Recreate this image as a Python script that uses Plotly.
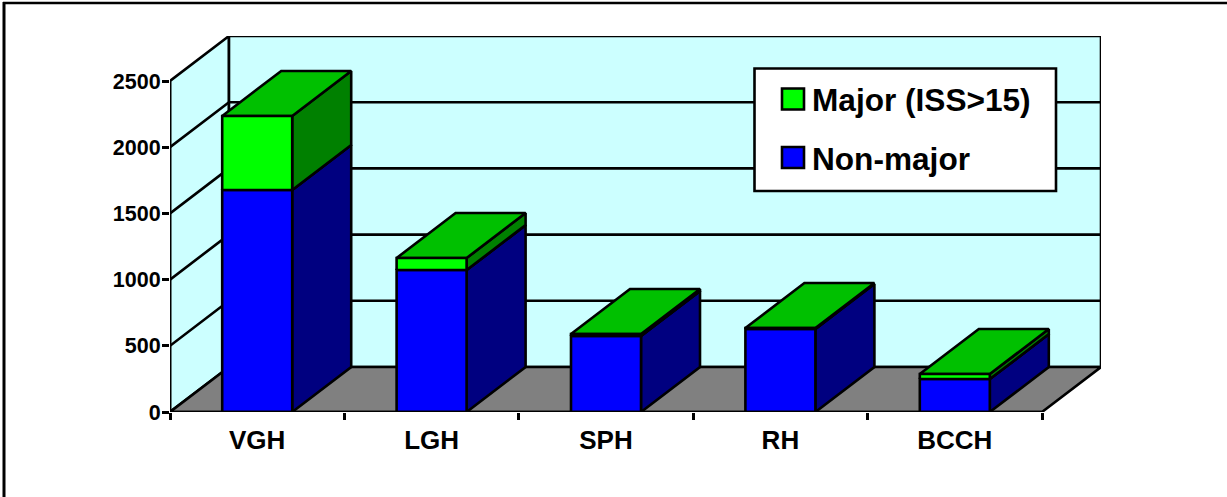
import plotly.graph_objects as go

categories = ["VGH", "LGH", "SPH", "RH", "BCCH"]
non_major = [1677, 1072, 574, 627, 249]
major = [559, 91, 15, 7, 38]
y_ticks = [0, 500, 1000, 1500, 2000, 2500]
series_names = ["Major (ISS>15)", "Non-major"]

W, H = 1227, 497
L, R, T, B = 170, 1101, 36, 412      # plot area in page pixels
SLOT_PX = 174.4
UNIT_PER_PX = 2500 / 331
DX = 59 / SLOT_PX                    # depth offset along x (data units)
DY = 45 * UNIT_PER_PX                # depth offset along y (data units)
BAR_W = 70 / SLOT_PX
n = len(categories)
LW = 2.6

WALL = "#CCFFFF"
FLOOR = "#808080"
GREEN, GREEN_SIDE, GREEN_TOP = "#00FF00", "#008000", "#00C000"
BLUE, BLUE_SIDE, BLUE_TOP = "#0000FF", "#000080", "#0000C0"

fig = go.Figure()


def poly(xs, ys, fill):
    fig.add_trace(go.Scatter(x=xs + xs[:1], y=ys + ys[:1], mode="lines", fill="toself",
                             fillcolor=fill, line=dict(color="black", width=LW),
                             hoverinfo="skip", showlegend=False, cliponaxis=False))


def line(xs, ys):
    fig.add_trace(go.Scatter(x=xs, y=ys, mode="lines", line=dict(color="black", width=LW),
                             hoverinfo="skip", showlegend=False, cliponaxis=False))


top = y_ticks[-1]
poly([0, 0, DX, DX], [0, top, top + DY, DY], WALL)
poly([DX, DX, n + DX, n + DX], [DY, top + DY, top + DY, DY], WALL)
poly([0, n, n + DX, DX], [0, 0, DY, DY], FLOOR)
for v in y_ticks[1:-1]:
    line([0, DX, n + DX], [v, v + DY, v + DY])


def box(i, y0, y1, front, side, top_col):
    x0 = i + 0.5 - BAR_W / 2
    x1 = i + 0.5 + BAR_W / 2
    poly([x1, x1 + DX, x1 + DX, x1], [y0, y0 + DY, y1 + DY, y1], side)
    poly([x0, x1, x1 + DX, x0 + DX], [y1, y1, y1 + DY, y1 + DY], top_col)
    poly([x0, x1, x1, x0], [y0, y0, y1, y1], front)


for i in range(n):
    box(i, 0, non_major[i], BLUE, BLUE_SIDE, BLUE_TOP)
    box(i, non_major[i], non_major[i] + major[i], GREEN, GREEN_SIDE, GREEN_TOP)

line([0, 0], [0, top])
line([0, n], [0, 0])


def px(x):
    return (x - L) / (R - L)


def py(y):
    return (B - y) / (B - T)


def rect(x0, y0, x1, y1, fill):
    fig.add_shape(type="rect", xref="paper", yref="paper", layer="above",
                  x0=px(x0), x1=px(x1), y0=py(y0), y1=py(y1),
                  fillcolor=fill, line=dict(color="black", width=LW))


rect(754.5, 68.5, 1056, 191, "white")
rect(782, 88.5, 804, 109.5, GREEN)
rect(782, 147, 804, 168, BLUE)
for name, yc in zip(series_names, [100, 158.5]):
    fig.add_annotation(text=name, xref="paper", yref="paper", x=px(809.5), y=py(yc),
                       xanchor="left", yanchor="middle", showarrow=False,
                       font=dict(family="Liberation Sans", size=31.6, color="black", weight="bold"))

# page frame
fig.add_shape(type="line", xref="paper", yref="paper", x0=px(4), x1=px(4), y0=py(2), y1=py(497),
              line=dict(color="black", width=3), layer="above")
fig.add_shape(type="line", xref="paper", yref="paper", x0=px(3), x1=px(1227), y0=py(3), y1=py(3),
              line=dict(color="black", width=2.5), layer="above")

fig.update_layout(
    width=W, height=H, autosize=False,
    margin=dict(l=L, r=W - R, t=T, b=H - B, pad=0),
    paper_bgcolor="white", plot_bgcolor="white", showlegend=False,
    font=dict(family="Liberation Sans", color="black"),
    xaxis=dict(range=[0, n + DX], showgrid=False, zeroline=False, showline=False,
               tickmode="array", tickvals=[i + 0.5 for i in range(n)], ticktext=categories,
               ticks="", ticklabelstandoff=10,
               tickfont=dict(size=26, family="Liberation Sans", weight="bold"),
               minor=dict(tickmode="array", tickvals=list(range(n + 1)), ticks="outside",
                          ticklen=7, tickwidth=2.5, tickcolor="black", showgrid=False)),
    yaxis=dict(range=[0, top + DY], showgrid=False, zeroline=False, showline=False,
               tickmode="array", tickvals=y_ticks, ticks="outside", ticklen=7, tickwidth=2.5,
               tickcolor="black", ticklabelstandoff=-3,
               tickfont=dict(size=21.5, family="Liberation Sans", weight="bold")),
)

fig.write_html("out.html", post_script="document.body.style.margin='0';",
               config={"displayModeBar": False})
